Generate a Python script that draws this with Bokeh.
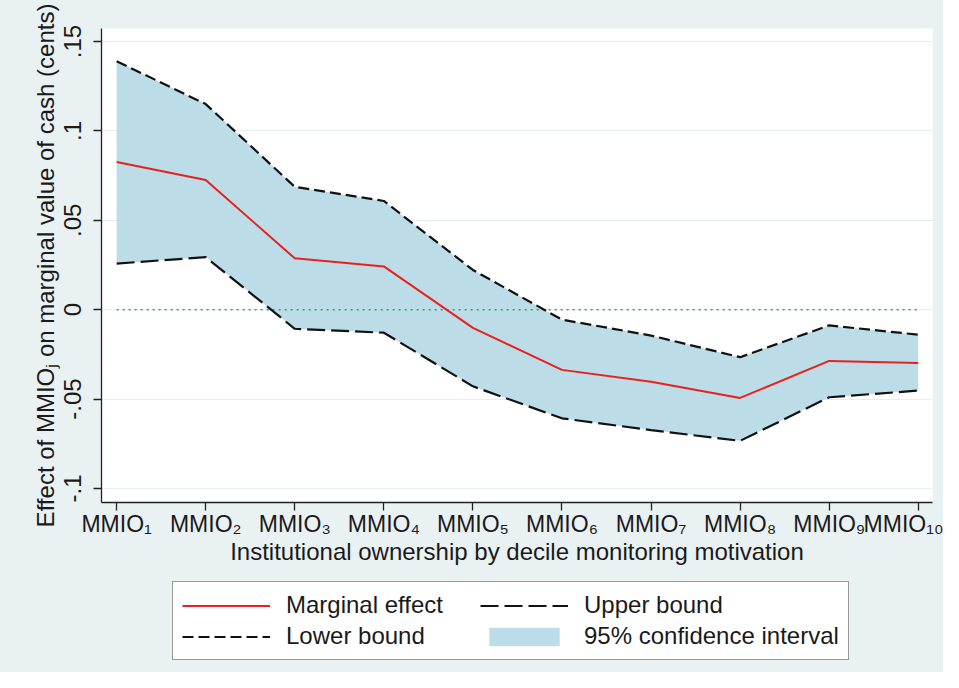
from bokeh.plotting import figure
from bokeh.layouts import column
from bokeh.models import FixedTicker, Legend, LegendItem, ColumnDataSource, Range1d
from bokeh.embed import file_html
from bokeh.resources import INLINE

# ---- data ----
positions = [1, 2, 3, 4, 5, 6, 7, 8, 9, 10]
tick_labels = ["MMIO\u2081", "MMIO\u2082", "MMIO\u2083", "MMIO\u2084", "MMIO\u2085",
               "MMIO\u2086", "MMIO\u2087", "MMIO\u2088", "MMIO\u2089", "MMIO\u2081\u2080"]
marginal_effect = [0.0826, 0.0725, 0.0287, 0.0242, -0.0102, -0.0337, -0.0403, -0.0494, -0.0287, -0.0298]
upper_bound = [0.139, 0.115, 0.0687, 0.0608, 0.0222, -0.0056, -0.0145, -0.0266, -0.0088, -0.0140]
lower_bound = [0.0258, 0.0294, -0.0107, -0.0129, -0.0429, -0.0608, -0.0674, -0.0734, -0.0490, -0.0453]
y_ticks = [-0.1, -0.05, 0, 0.05, 0.1, 0.15]
y_tick_labels = ["-.1", "-.05", "0", ".05", ".1", ".15"]
zero_line = [0, 0]
legend_labels = ["Marginal effect", "Lower bound", "Upper bound", "95% confidence interval"]

FONT = "Liberation Sans"
BG = "#eaf1f3"
CI_COLOR = "#bcdde7"
RED = "#e8201e"
INK = "#111111"
ME_STYLE = dict(line_color=RED, line_width=2)
SHORT_DASH = dict(line_color=INK, line_width=2.2, line_dash="11 5")
LONG_DASH = dict(line_color=INK, line_width=2.2, line_dash="18 6")

src = ColumnDataSource(dict(x=positions, me=marginal_effect, ub=upper_bound, lb=lower_bound))

p = figure(width=943, height=575, output_backend="svg", toolbar_location=None,
           x_range=Range1d(0.83, 10.16), y_range=Range1d(-0.1079, 0.1573),
           min_border_left=101, min_border_right=11, min_border_top=28, min_border_bottom=73)

p.background_fill_color = "white"
p.border_fill_color = BG
p.outline_line_color = None

p.varea(x="x", y1="lb", y2="ub", source=src, fill_color=CI_COLOR, fill_alpha=1.0)
p.line(x=[positions[0], positions[-1]], y=zero_line, line_color="#3c9a5f", line_width=1.5, line_dash="2 4")
p.line(x="x", y="ub", source=src, **SHORT_DASH)
p.line(x="x", y="lb", source=src, **LONG_DASH)
p.line(x="x", y="me", source=src, **ME_STYLE)

# axes
p.xaxis.ticker = FixedTicker(ticks=positions)
p.xaxis.major_label_overrides = {pos: lab for pos, lab in zip(positions, tick_labels)}
p.yaxis.ticker = FixedTicker(ticks=y_ticks)
p.yaxis.major_label_overrides = {t: lab for t, lab in zip(y_ticks, y_tick_labels)}
p.yaxis.major_label_orientation = "vertical"

for ax in (p.xaxis, p.yaxis):
    ax.axis_line_color = "#222222"
    ax.axis_line_width = 1.3
    ax.major_tick_line_color = "#222222"
    ax.major_tick_line_width = 1.3
    ax.major_tick_out = 8
    ax.major_tick_in = 0
    ax.minor_tick_line_color = None
    ax.major_label_text_font = FONT
    ax.major_label_text_font_size = "24px"
    ax.major_label_text_color = "#1a1a1a"
    ax.axis_label_text_font = FONT
    ax.axis_label_text_font_size = "24px"
    ax.axis_label_text_font_style = "normal"
    ax.axis_label_text_color = "#1a1a1a"

p.xaxis.major_label_text_font_size = "23px"
p.xaxis.axis_label = "Institutional ownership by decile monitoring motivation"
p.yaxis.axis_label = "Effect of MMIO\u2C7C on marginal value of cash (cents)"
p.xaxis.major_label_standoff = 0
p.xaxis.axis_label_standoff = -2
p.yaxis.major_label_standoff = 12
p.yaxis.axis_label_standoff = 3

p.xgrid.grid_line_color = None
p.ygrid.grid_line_color = "#e6eef0"
p.ygrid.grid_line_width = 1.2

# ---- legend strip (separate figure so the legend is not clipped) ----
lg = figure(width=943, height=97, output_backend="svg", toolbar_location=None,
            x_range=Range1d(100, 101), y_range=Range1d(100, 101), x_axis_type=None, y_axis_type=None,
            min_border_left=101, min_border_right=11, min_border_top=0, min_border_bottom=0)
lg.background_fill_color = BG
lg.border_fill_color = BG
lg.outline_line_color = None
lg.xgrid.grid_line_color = None
lg.ygrid.grid_line_color = None

# legend-sample renderers (drawn from the same data, outside this strip's visible range)
r_me = lg.line(x="x", y="me", source=src, **ME_STYLE)
r_short = lg.line(x="x", y="ub", source=src, **SHORT_DASH)
r_long = lg.line(x="x", y="lb", source=src, **LONG_DASH)
r_ci = lg.varea(x="x", y1="lb", y2="ub", source=src, fill_color=CI_COLOR, fill_alpha=1.0)

legend = Legend(items=[
    LegendItem(label=legend_labels[0], renderers=[r_me]),
    LegendItem(label=legend_labels[1], renderers=[r_short]),
    LegendItem(label=legend_labels[2], renderers=[r_long]),
    LegendItem(label=legend_labels[3], renderers=[r_ci]),
], orientation="vertical", nrows=2, location=(71, 12))
legend.label_text_font = FONT
legend.label_text_font_size = "24px"
legend.label_text_color = "#1a1a1a"
legend.glyph_width = 88
legend.glyph_height = 23
legend.label_width = 191
legend.label_height = 23
legend.label_standoff = 16
legend.spacing = 3
legend.padding = 9
legend.margin = 0
legend.border_line_color = "#333333"
legend.border_line_width = 1.2
legend.background_fill_color = "white"
legend.background_fill_alpha = 1.0
lg.add_layout(legend, "center")

layout = column(p, lg, spacing=0, styles={"background-color": BG})
open("out.html", "w").write(file_html(layout, INLINE))
